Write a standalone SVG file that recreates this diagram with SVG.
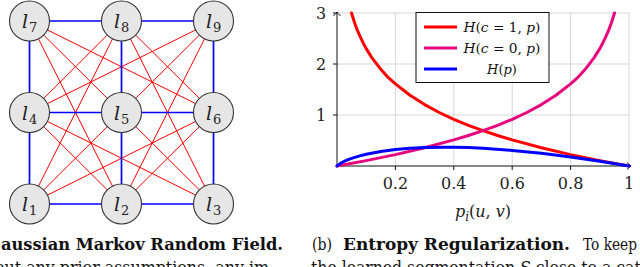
<svg xmlns="http://www.w3.org/2000/svg" width="640" height="267" viewBox="0 0 640 267">
<defs>
<marker id="arr" viewBox="-5 -5 6 10" refX="0" refY="0" markerWidth="6" markerHeight="10" markerUnits="userSpaceOnUse" orient="auto">
<path d="M-4,-3.5 Q-1.2,-0.8 0,0 Q-1.2,0.8 -4,3.5" fill="none" stroke="#000" stroke-width="0.9"/>
</marker>
</defs>
<style>
.red{stroke:#ff0000;stroke-width:1;}
.blue{stroke:#0000ff;stroke-width:1.7;}
.node circle{fill:#e6e6e6;stroke:#333;stroke-width:1.1;}
.lab{font-family:"DejaVu Serif","Liberation Serif",serif;font-style:italic;font-size:19px;fill:#222;}
.sub{font-family:"DejaVu Serif","Liberation Serif",serif;font-style:normal;font-size:13px;fill:#222;}
.grid{stroke:#d6d6d6;stroke-width:1;}
.tick{font-family:"DejaVu Serif","Liberation Serif",serif;font-size:16px;fill:#222;}
.curve{fill:none;stroke-width:3;stroke-linejoin:round;stroke-linecap:round;}
.cap{font-family:"DejaVu Serif","Liberation Serif",serif;font-size:16px;fill:#111;}
.leg{font-family:"DejaVu Serif","Liberation Serif",serif;font-size:13px;fill:#111;}
.it{font-style:italic;}
</style>
<g id="connectors">
<line class="red" x1="29.5" y1="21" x2="121.5" y2="112.5"/>
<line class="red" x1="29.5" y1="21" x2="213.5" y2="112.5"/>
<line class="red" x1="29.5" y1="21" x2="121.5" y2="204"/>
<line class="red" x1="121.5" y1="21" x2="29.5" y2="112.5"/>
<line class="red" x1="121.5" y1="21" x2="213.5" y2="112.5"/>
<line class="red" x1="121.5" y1="21" x2="29.5" y2="204"/>
<line class="red" x1="121.5" y1="21" x2="213.5" y2="204"/>
<line class="red" x1="213.5" y1="21" x2="121.5" y2="112.5"/>
<line class="red" x1="213.5" y1="21" x2="29.5" y2="112.5"/>
<line class="red" x1="213.5" y1="21" x2="121.5" y2="204"/>
<line class="red" x1="29.5" y1="112.5" x2="121.5" y2="204"/>
<line class="red" x1="29.5" y1="112.5" x2="213.5" y2="204"/>
<line class="red" x1="121.5" y1="112.5" x2="29.5" y2="204"/>
<line class="red" x1="121.5" y1="112.5" x2="213.5" y2="204"/>
<line class="red" x1="213.5" y1="112.5" x2="29.5" y2="204"/>
<line class="red" x1="213.5" y1="112.5" x2="121.5" y2="204"/>
<line class="blue" x1="29.5" y1="21" x2="213.5" y2="21"/>
<line class="blue" x1="29.5" y1="112.5" x2="213.5" y2="112.5"/>
<line class="blue" x1="29.5" y1="204" x2="213.5" y2="204"/>
<line class="blue" x1="29.5" y1="21" x2="29.5" y2="204"/>
<line class="blue" x1="121.5" y1="21" x2="121.5" y2="204"/>
<line class="blue" x1="213.5" y1="21" x2="213.5" y2="204"/>
</g>
<g id="l7" class="node"><circle cx="29.5" cy="21" r="20"/><text class="lab" x="22" y="28">l</text><text class="sub" x="29" y="32">7</text></g>
<g id="l8" class="node"><circle cx="121.5" cy="21" r="20"/><text class="lab" x="114" y="28">l</text><text class="sub" x="121" y="32">8</text></g>
<g id="l9" class="node"><circle cx="213.5" cy="21" r="20"/><text class="lab" x="206" y="28">l</text><text class="sub" x="213" y="32">9</text></g>
<g id="l4" class="node"><circle cx="29.5" cy="112.5" r="20"/><text class="lab" x="22" y="119.5">l</text><text class="sub" x="29" y="123.5">4</text></g>
<g id="l5" class="node"><circle cx="121.5" cy="112.5" r="20"/><text class="lab" x="114" y="119.5">l</text><text class="sub" x="121" y="123.5">5</text></g>
<g id="l6" class="node"><circle cx="213.5" cy="112.5" r="20"/><text class="lab" x="206" y="119.5">l</text><text class="sub" x="213" y="123.5">6</text></g>
<g id="l1" class="node"><circle cx="29.5" cy="204" r="20"/><text class="lab" x="22" y="211">l</text><text class="sub" x="29" y="215">1</text></g>
<g id="l2" class="node"><circle cx="121.5" cy="204" r="20"/><text class="lab" x="114" y="211">l</text><text class="sub" x="121" y="215">2</text></g>
<g id="l3" class="node"><circle cx="213.5" cy="204" r="20"/><text class="lab" x="206" y="211">l</text><text class="sub" x="213" y="215">3</text></g>

<g id="plot">
<g id="grid">
<line class="grid" x1="395.4" y1="13" x2="395.4" y2="166"/>
<line class="grid" x1="453.8" y1="13" x2="453.8" y2="166"/>
<line class="grid" x1="512.2" y1="13" x2="512.2" y2="166"/>
<line class="grid" x1="570.6" y1="13" x2="570.6" y2="166"/>
<line class="grid" x1="629" y1="13" x2="629" y2="166"/>
<line class="grid" x1="337" y1="115" x2="629" y2="115"/>
<line class="grid" x1="337" y1="64" x2="629" y2="64"/>
<line class="grid" x1="337" y1="13" x2="629" y2="13"/>
</g>
<g id="axes" stroke="#111" stroke-width="1">
<line x1="337" y1="166.5" x2="337" y2="12" marker-end="url(#arr)"/>
<line x1="336.5" y1="166" x2="631" y2="166" marker-end="url(#arr)"/>
<line x1="333" y1="115" x2="337" y2="115"/>
<line x1="333" y1="64" x2="337" y2="64"/>
<line x1="333" y1="13" x2="337" y2="13"/>
<line x1="395.4" y1="166" x2="395.4" y2="170"/>
<line x1="453.8" y1="166" x2="453.8" y2="170"/>
<line x1="512.2" y1="166" x2="512.2" y2="170"/>
<line x1="570.6" y1="166" x2="570.6" y2="170"/>
</g>
<g id="ticklabels" class="tick">
<text x="321" y="19" text-anchor="middle">3</text>
<text x="321" y="70" text-anchor="middle">2</text>
<text x="321" y="121" text-anchor="middle">1</text>
<text x="395.4" y="189" text-anchor="middle">0.2</text>
<text x="453.8" y="189" text-anchor="middle">0.4</text>
<text x="512.2" y="189" text-anchor="middle">0.6</text>
<text x="570.6" y="189" text-anchor="middle">0.8</text>
<text x="629" y="189" text-anchor="middle">1</text>
<text x="483" y="217" text-anchor="middle"><tspan class="it">p</tspan><tspan font-size="12" class="it" dy="4">i</tspan><tspan dy="-4">(</tspan><tspan class="it">u</tspan><tspan>, </tspan><tspan class="it">v</tspan><tspan>)</tspan></text>
</g>
<g id="curves">
<path class="curve" stroke="#ff0000" d="M351.5,13 L354.5,22.5 L357.4,30.4 L360.4,37.2 L363.3,43.2 L366.2,48.6 L372,57.9 L380.8,69.3 L388.1,77.4 L395.4,83.9 L410,95.3 L424.6,104.6 L439.2,112.5 L453.8,119.3 L468.4,125.3 L483,130.7 L497.6,135.5 L512.2,139.9 L541.4,147.8 L570.6,154.6 L599.8,160.6 L629,166"/>
<path class="curve" stroke="#e6077f" d="M337,166 L366.2,160.6 L395.4,154.6 L424.6,147.8 L453.8,139.9 L468.4,135.5 L483,130.7 L497.6,125.3 L512.2,119.3 L526.8,112.5 L541.4,104.6 L556,95.3 L570.6,83.9 L577.9,77.4 L585.2,69.3 L594,57.9 L599.8,48.6 L602.7,43.2 L605.6,37.2 L608.6,30.4 L611.5,22.5 L614.5,13"/>
<path class="curve" stroke="#0000ff" d="M337,166 L338.5,164.9 L339.9,163.8 L342.8,162 L346.8,160.2 L351.6,158.4 L358.9,156.1 L366.2,154.3 L380.8,151.5 L395.4,149.6 L410,148.3 L424.6,147.6 L444.5,147.2 L453.8,147.3 L468.4,147.6 L483,148.3 L512.2,150.4 L541.4,153.3 L570.6,156.9 L599.8,161.2 L629,166"/>
</g>
<g id="legend">
<rect x="416" y="12.5" width="133" height="70" fill="#fff" stroke="#111" stroke-width="1"/>
<line x1="424" y1="27" x2="457" y2="27" stroke="#ff0000" stroke-width="3"/>
<line x1="424" y1="48" x2="457" y2="48" stroke="#e6077f" stroke-width="3"/>
<line x1="424" y1="69" x2="457" y2="69" stroke="#0000ff" stroke-width="3"/>
<g class="leg" text-anchor="middle">
<text x="502" y="32" textLength="77" lengthAdjust="spacingAndGlyphs"><tspan class="it">H</tspan>(<tspan class="it">c</tspan> = 1, <tspan class="it">p</tspan>)</text>
<text x="502" y="53" textLength="77" lengthAdjust="spacingAndGlyphs"><tspan class="it">H</tspan>(<tspan class="it">c</tspan> = 0, <tspan class="it">p</tspan>)</text>
<text x="502" y="74"><tspan class="it">H</tspan>(<tspan class="it">p</tspan>)</text>
</g>
</g>
</g>

<g id="captions" class="cap">
<text x="-13" y="250" font-weight="bold" textLength="296" lengthAdjust="spacingAndGlyphs">Gaussian Markov Random Field.</text>
<text x="-5" y="273" textLength="274" lengthAdjust="spacingAndGlyphs">out any prior assumptions, any im</text>
<text y="250"><tspan x="312" textLength="20" lengthAdjust="spacingAndGlyphs">(b)</tspan><tspan x="343" font-weight="bold" textLength="227" lengthAdjust="spacingAndGlyphs">Entropy Regularization.</tspan><tspan x="583" textLength="54" lengthAdjust="spacingAndGlyphs">To keep</tspan></text>
<text x="311" y="273" textLength="335" lengthAdjust="spacingAndGlyphs">the learned segmentation <tspan class="it">S</tspan> close to a cat-</text>
</g>
</svg>
